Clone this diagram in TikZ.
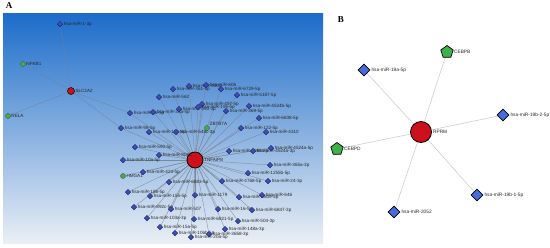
\documentclass[tikz,border=0pt]{standalone}
\usepackage{fontspec}
\setmainfont{Liberation Sans}
\newfontfamily\panelfont{Liberation Serif}
\usetikzlibrary{shapes.geometric}
\definecolor{netbgtop}{RGB}{28,108,202}
\definecolor{netbgmid}{RGB}{118,174,226}
\definecolor{netbgbot}{RGB}{234,239,245}
\definecolor{mirblue}{RGB}{62,80,178}
\definecolor{mirdark}{RGB}{28,36,110}
\definecolor{mirbright}{RGB}{72,108,222}
\definecolor{genered}{RGB}{204,16,28}
\definecolor{tfgreen}{RGB}{62,178,72}
\definecolor{edgegray}{RGB}{118,128,142}
\pgfdeclarelayer{back}
\pgfdeclarelayer{links}
\pgfsetlayers{back,links,main}

\begin{document}
\begin{tikzpicture}[
      x=1pt, y=-1pt,
      mirA/.style={diamond, draw=mirdark, fill=mirblue, inner sep=0pt, minimum size=5.5pt, line width=0.5pt},
      mirB/.style={diamond, draw=black, fill=mirbright, inner sep=0pt, minimum size=12pt, line width=0.7pt},
      hub/.style={circle, draw=black, fill=genered, inner sep=0pt, line width=0.8pt},
      tfA/.style={circle, draw=black!70, fill=tfgreen, minimum size=5pt, inner sep=0pt, line width=0.4pt},
      tfB/.style={regular polygon, regular polygon sides=5, draw=black, fill=tfgreen, minimum size=13pt, inner sep=0pt, line width=0.7pt},
      lbl/.style={font=\fontsize{4.6}{5}\selectfont, text=black!85, inner sep=0.6pt},
      lblB/.style={font=\fontsize{4.8}{5}\selectfont, text=black!85, inner sep=1pt},
      panel/.style={font=\panelfont\bfseries\fontsize{9}{9}\selectfont, inner sep=0pt},
      linkA/.style={draw=edgegray, line width=0.35pt, opacity=0.85},
      linkB/.style={draw=black!22, line width=0.5pt}
    ]
      \useasboundingbox (0,0) rectangle (550,247);

      % A. TNFAIP8 / SLC2A2 network
      \begin{pgfonlayer}{back}
        \shade[top color=netbgtop, middle color=netbgmid, bottom color=netbgbot] (3,13) rectangle (323,243);
      \end{pgfonlayer}
      \node[panel] (labA) at (9,6) {A};

      \node[hub, minimum size=16pt, label={[lbl]right:TNFAIP8}] (tnf) at (195,160) {};
      \node[hub, minimum size=7pt, line width=0.5pt, label={[lbl]right:SLC2A2}] (slc) at (71,91) {};

      \node[tfA, label={[lbl]right:NFKB1}] (nfkb) at (23,64) {};
      \node[tfA, label={[lbl]right:RELA}] (rela) at (8,116) {};
      \node[tfA, label={[lbl]above right:ZBTB7A}] (zbtb) at (207,128) {};
      \node[tfA, label={[lbl]right:HMGA1}] (hmga) at (123,176) {};

      \foreach \x/\y/\t [count=\i] in {
          60/24/hsa-miR-1-3p, 130/113/hsa-miR-96-5p, 153/112/hsa-miR-33a-5p, 121/128/hsa-miR-98-5p,
          159/97/hsa-miR-562, 173/89/hsa-miR-361-5p, 189/86/hsa-miR-4500, 206/85/hsa-miR-606,
          221/89/hsa-miR-6729-5p, 237/95/hsa-miR-5187-5p, 179/109/hsa-miR-590-3p, 202/104/hsa-miR-497-5p,
          198/107/hsa-miR-195-5p, 226/111/hsa-miR-369-5p, 249/106/hsa-miR-4524b-5p, 259/118/hsa-miR-6838-5p,
          241/128/hsa-miR-122-5p, 266/132/hsa-miR-4310, 149/132/hsa-miR-19b-3p, 176/132/hsa-miR-548c-3p,
          135/147/hsa-miR-590-5p, 159/155/hsa-miR-8085, 123/160/hsa-miR-10a-5p, 143/172/hsa-miR-424-5p,
          229/151/hsa-miR-3065-3p, 253/151/hsa-miR-4524a-3p, 271/148/hsa-miR-4524a-5p, 270/165/hsa-miR-365a-3p,
          248/173/hsa-miR-1255b-5p, 222/181/hsa-miR-4768-5p, 268/181/hsa-miR-24-3p, 169/182/hsa-miR-6883-5p,
          128/192/hsa-miR-186-5p, 150/196/hsa-miR-155-5p, 195/195/hsa-miR-1179, 239/197/hsa-miR-6809-5p,
          262/195/hsa-miR-646, 134/207/hsa-miR-892c-5p, 171/209/hsa-miR-507, 218/209/hsa-miR-16-5p,
          252/210/hsa-miR-6847-3p, 194/219/hsa-miR-6821-5p, 238/221/hsa-miR-504-3p, 147/218/hsa-miR-103a-3p,
          160/227/hsa-miR-15a-5p, 175/233/hsa-miR-106b-5p, 191/237/hsa-miR-20a-5p, 209/234/hsa-miR-3658-3p,
          225/229/hsa-miR-148a-3p}
        \node[mirA, label={[lbl]right:\t}] (ma\i) at (\x,\y) {};

      \begin{pgfonlayer}{links}
        \foreach \i in {2,...,49}
          \draw[linkA] (ma\i) -- (tnf);
        \draw[linkA] (slc) -- (ma1);
        \draw[linkA] (slc) -- (nfkb);
        \draw[linkA] (slc) -- (rela);
        \draw[linkA] (slc) -- (ma2);
        \draw[linkA] (slc) -- (ma4);
        \draw[linkA] (zbtb) -- (tnf);
        \draw[linkA] (hmga) -- (tnf);
      \end{pgfonlayer}

      % B. RPRM network
      \node[panel] (labB) at (341,20) {B};

      \node[hub, minimum size=21pt, label={[lblB]right:RPRM}] (rprm) at (421,132) {};
      \node[tfB, label={[lblB]right:CEBPB}] (cebpb) at (447,52) {};
      \node[tfB, label={[lblB]right:CEBPD}] (cebpd) at (337,149) {};
      \node[mirB, label={[lblB]right:hsa-miR-19a-5p}] (mb1) at (364,70) {};
      \node[mirB, label={[lblB]right:hsa-miR-19b-2-5p}] (mb2) at (503,115) {};
      \node[mirB, label={[lblB]right:hsa-miR-19b-1-5p}] (mb3) at (477,195) {};
      \node[mirB, label={[lblB]right:hsa-miR-2052}] (mb4) at (394,212) {};

      \begin{pgfonlayer}{links}
        \draw[linkB] (rprm) -- (cebpb);
        \draw[linkB] (rprm) -- (cebpd);
        \draw[linkB] (rprm) -- (mb1);
        \draw[linkB] (rprm) -- (mb2);
        \draw[linkB] (rprm) -- (mb3);
        \draw[linkB] (rprm) -- (mb4);
      \end{pgfonlayer}
    \end{tikzpicture}
\end{document}
